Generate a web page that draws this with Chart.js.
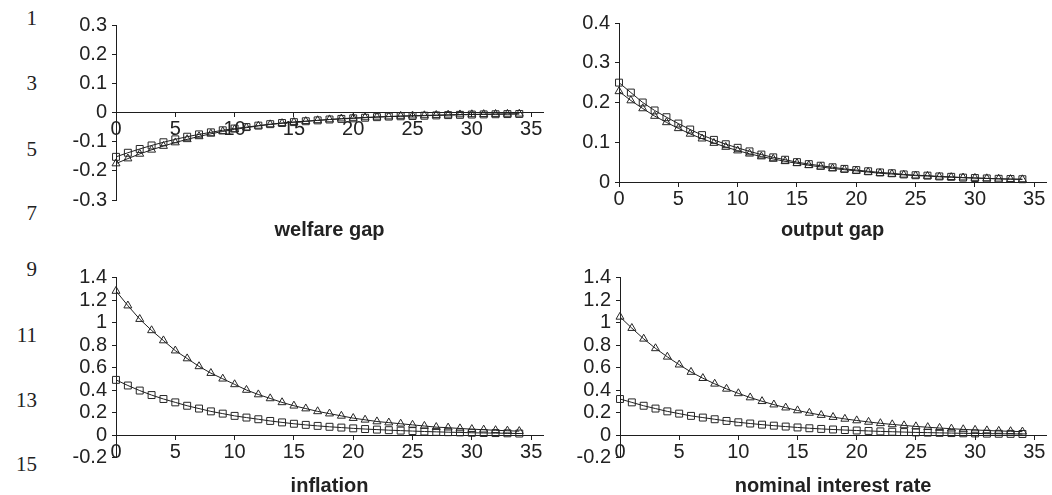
<!DOCTYPE html>
<html>
<head>
<meta charset="utf-8">
<script src="https://cdn.jsdelivr.net/npm/chart.js@4.4.1/dist/chart.umd.min.js"></script>
<style>
  html, body { margin: 0; padding: 0; background: #ffffff; }
  body { width: 1052px; height: 495px; position: relative; overflow: hidden; }
  .panel { position: absolute; }
  .ln { position: absolute; left: 0; width: 37px; text-align: right;
        font-family: "Liberation Serif", "DejaVu Serif", serif; font-size: 21px;
        color: #222; line-height: 20px; }
</style>
</head>
<body>
<div class="ln" style="top:8px">1</div>
<div class="ln" style="top:73px">3</div>
<div class="ln" style="top:139px">5</div>
<div class="ln" style="top:203px">7</div>
<div class="ln" style="top:259px">9</div>
<div class="ln" style="top:325px">11</div>
<div class="ln" style="top:390px">13</div>
<div class="ln" style="top:454px">15</div>

<div class="panel" style="left:60px;top:0px;width:500px;height:245px"><canvas id="c1" width="500" height="245"></canvas></div>
<div class="panel" style="left:560px;top:0px;width:492px;height:245px"><canvas id="c2" width="492" height="245"></canvas></div>
<div class="panel" style="left:60px;top:250px;width:500px;height:245px"><canvas id="c3" width="500" height="245"></canvas></div>
<div class="panel" style="left:560px;top:250px;width:492px;height:245px"><canvas id="c4" width="492" height="245"></canvas></div>

<script>
// ---- data ----
const periods = [0,1,2,3,4,5,6,7,8,9,10,11,12,13,14,15,16,17,18,19,20,21,22,23,24,25,26,27,28,29,30,31,32,33,34];
const xTicks = [0,5,10,15,20,25,30,35];

const titles = ["welfare gap", "output gap", "inflation", "nominal interest rate"];

// squares series
const welfareSquares = [-0.152,-0.138,-0.125,-0.113,-0.102,-0.092,-0.083,-0.075,-0.068,-0.061,-0.055,-0.050,-0.045,-0.040,-0.036,-0.033,-0.030,-0.027,-0.024,-0.022,-0.020,-0.018,-0.016,-0.014,-0.013,-0.012,-0.011,-0.010,-0.009,-0.008,-0.007,-0.0065,-0.006,-0.0055,-0.005];
// triangles series
const welfareTriangles = [-0.175,-0.158,-0.142,-0.128,-0.115,-0.103,-0.092,-0.082,-0.073,-0.065,-0.058,-0.052,-0.046,-0.041,-0.037,-0.033,-0.030,-0.027,-0.024,-0.021,-0.019,-0.017,-0.015,-0.014,-0.012,-0.011,-0.010,-0.009,-0.008,-0.007,-0.0065,-0.006,-0.0055,-0.005,-0.0045];

const outputSquares = [0.250,0.225,0.200,0.180,0.163,0.147,0.132,0.118,0.106,0.095,0.086,0.077,0.069,0.062,0.056,0.050,0.045,0.041,0.037,0.033,0.030,0.027,0.024,0.022,0.019,0.017,0.016,0.014,0.013,0.011,0.010,0.009,0.008,0.0075,0.007];
const outputTriangles = [0.228,0.205,0.185,0.166,0.150,0.135,0.121,0.109,0.098,0.088,0.079,0.071,0.064,0.058,0.052,0.047,0.042,0.038,0.034,0.031,0.028,0.025,0.022,0.020,0.018,0.016,0.015,0.013,0.012,0.011,0.010,0.009,0.008,0.007,0.0065];

const inflationSquares = [0.49,0.44,0.395,0.355,0.32,0.29,0.26,0.235,0.21,0.19,0.17,0.155,0.14,0.125,0.112,0.10,0.09,0.081,0.073,0.066,0.059,0.053,0.048,0.043,0.039,0.035,0.031,0.028,0.025,0.023,0.020,0.018,0.017,0.015,0.013];
const inflationTriangles = [1.28,1.15,1.03,0.93,0.84,0.75,0.68,0.61,0.55,0.50,0.45,0.40,0.36,0.325,0.29,0.26,0.235,0.21,0.19,0.17,0.15,0.135,0.12,0.11,0.10,0.09,0.08,0.07,0.065,0.058,0.052,0.047,0.042,0.038,0.034];

const rateSquares = [0.32,0.29,0.26,0.235,0.21,0.19,0.17,0.155,0.14,0.125,0.113,0.102,0.092,0.083,0.075,0.067,0.060,0.054,0.049,0.044,0.040,0.036,0.032,0.029,0.026,0.023,0.021,0.019,0.017,0.015,0.014,0.012,0.011,0.010,0.009];
const rateTriangles = [1.05,0.95,0.855,0.77,0.695,0.625,0.56,0.505,0.455,0.41,0.37,0.333,0.30,0.27,0.243,0.218,0.196,0.177,0.159,0.143,0.129,0.116,0.104,0.094,0.085,0.076,0.069,0.062,0.056,0.050,0.045,0.040,0.036,0.033,0.030];

// ---- chart construction ----
const INK = '#1e1e1e';
const FAMILY = '"Liberation Sans", Arial, Helvetica, sans-serif';
const TICK_FONT = { family: FAMILY, size: 20, lineHeight: 1.1 };

function toPoints(vals) { return vals.map((v, i) => ({ x: periods[i], y: v })); }

function series(vals, style, radius) {
  return {
    data: toPoints(vals),
    borderColor: INK,
    borderWidth: 1,
    pointStyle: style,
    pointRadius: radius,
    pointHoverRadius: radius,
    pointBorderColor: '#262626',
    pointBorderWidth: 1,
    pointBackgroundColor: 'rgba(255,255,255,0)',
    tension: 0,
    clip: false
  };
}

function fmt(v) { return String(Math.round(v * 10) / 10); }

function makeChart(id, title, squares, triangles, y, lay) {
  new Chart(document.getElementById(id), {
    type: 'line',
    data: { datasets: [ series(squares, 'rect', 4.9), series(triangles, 'triangle', 4.6) ] },
    options: {
      responsive: false,
      animation: false,
      events: [],
      layout: { padding: { top: lay.pt, right: lay.pr, bottom: lay.pb, left: 0 } },
      plugins: {
        legend: { display: false },
        tooltip: { enabled: false },
        title: {
          display: true,
          text: title,
          position: 'bottom',
          fullSize: false,
          color: '#222',
          font: { family: FAMILY, size: 20, weight: 'bold', lineHeight: 0.9 },
          padding: { top: lay.tt, bottom: lay.tb }
        }
      },
      scales: {
        x: {
          type: 'linear',
          position: { y: 0 },
          min: 0, max: 36,
          afterBuildTicks: (s) => { s.ticks = xTicks.map(v => ({ value: v })); },
          ticks: { font: TICK_FONT, color: '#222', padding: 2, maxRotation: 0, autoSkip: false },
          grid: { display: true, drawOnChartArea: false, drawTicks: true, tickLength: 4, color: INK },
          border: { display: true, color: INK, width: 1 }
        },
        y: {
          type: 'linear',
          min: y.min, max: y.max,
          ticks: { stepSize: y.step, font: TICK_FONT, color: '#222', padding: 5, autoSkip: false, callback: (v) => fmt(v) },
          grid: { display: true, drawOnChartArea: false, drawTicks: true, tickLength: 4, color: INK },
          border: { display: true, color: INK, width: 1 },
          afterFit: (s) => { s.width = lay.yw; }
        }
      }
    }
  });
}

// titles are centred on their plot areas (fullSize: false)
makeChart('c1', titles[0], welfareSquares, welfareTriangles, { min: -0.3, max: 0.3, step: 0.1 },
  { yw: 56, pt: 25, pr: 17, pb: 3, tt: 21, tb: 3 });
makeChart('c2', titles[1], outputSquares, outputTriangles, { min: 0, max: 0.4, step: 0.1 },
  { yw: 59, pt: 23, pr: 2, pb: 3, tt: 39, tb: 3 });
makeChart('c3', titles[2], inflationSquares, inflationTriangles, { min: -0.2, max: 1.4, step: 0.2 },
  { yw: 56, pt: 27.5, pr: 17, pb: 0, tt: 19.5, tb: 0 });
makeChart('c4', titles[3], rateSquares, rateTriangles, { min: -0.2, max: 1.4, step: 0.2 },
  { yw: 60, pt: 27.5, pr: 2, pb: 0, tt: 19.5, tb: 0 });
</script>
</body>
</html>
